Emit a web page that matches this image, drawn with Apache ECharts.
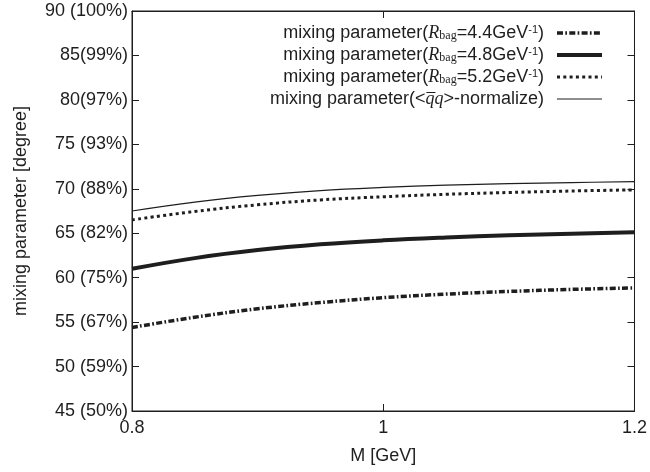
<!DOCTYPE html>
<html>
<head>
<meta charset="utf-8">
<script src="https://cdn.jsdelivr.net/npm/echarts@6/dist/echarts.min.js"></script>
<style>
  html, body { margin: 0; padding: 0; background: #fff; }
  #chart { width: 650px; height: 472px; }
</style>
</head>
<body>
<div id="chart"></div>
<script>
// Meson mass M [GeV]
const massGeV = [0.8, 0.85, 0.9, 0.95, 1.0, 1.05, 1.1, 1.15, 1.2];

// Mixing parameter [degree] for three bag radii and the <qq>-normalized case
const mixRbag44 = [54.4, 55.55, 56.5, 57.2, 57.75, 58.15, 58.45, 58.68, 58.85];
const mixRbag48 = [61.0, 62.2, 63.1, 63.75, 64.2, 64.52, 64.77, 64.95, 65.1];
const mixRbag52 = [66.5, 67.45, 68.2, 68.75, 69.1, 69.38, 69.58, 69.75, 69.88];
const mixNormalized = [67.5, 68.5, 69.25, 69.8, 70.15, 70.4, 70.57, 70.7, 70.8];

// Y tick values and their labels (degree with percentage)
const yTickValues = [45, 50, 55, 60, 65, 70, 75, 80, 85, 90];
const yTickLabels = ['45 (50%)', '50 (59%)', '55 (67%)', '60 (75%)', '65 (82%)',
                     '70 (88%)', '75 (93%)', '80(97%)', '85(99%)', '90 (100%)'];

// Series names and their rich-text legend labels
const seriesNames = ['Rbag 4.4', 'Rbag 4.8', 'Rbag 5.2', 'qq normalize'];
const legendLabels = [
  'mixing parameter({R|R}{sub|bag}=4.4GeV{sup|-1}){pad|}',
  'mixing parameter({R|R}{sub|bag}=4.8GeV{sup|-1}){pad|}',
  'mixing parameter({R|R}{sub|bag}=5.2GeV{sup|-1}){pad|}',
  'mixing parameter(<{R|q\u0305q}>-normalize){pad|}'
];

const ink = '#1e1e1e';
const font = '"Liberation Sans", Arial, Helvetica, sans-serif';
const serif = '"Liberation Serif", "Times New Roman", serif';

function pairs(ys) { return massGeV.map((x, i) => [x, ys[i]]); }

const chart = echarts.init(document.getElementById('chart'), null, { renderer: 'canvas' });

const lineStyles = [
  { width: 3.5, type: [6, 2.3, 1.7, 2.3], color: ink },
  { width: 4, type: 'solid', color: ink },
  { width: 3, type: [3, 3.3], color: ink },
  { width: 1.2, type: 'solid', color: ink }
];
const seriesData = [mixRbag44, mixRbag48, mixRbag52, mixNormalized];

chart.setOption({
  animation: false,
  backgroundColor: '#fff',
  grid: { left: 132, right: 12, top: 11, bottom: 61, show: true, borderColor: ink, borderWidth: 1 },
  legend: {
    orient: 'vertical',
    align: 'right',
    right: 46,
    top: 24,
    padding: 0,
    itemWidth: 45,
    itemHeight: 14,
    itemGap: 4,
    data: seriesNames.map((n, i) => ({
      name: n,
      lineStyle: lineStyles[i],
      itemStyle: { color: 'rgba(0,0,0,0)', borderWidth: 0, opacity: 0 }
    })),
    formatter: name => legendLabels[seriesNames.indexOf(name)],
    textStyle: {
      fontFamily: font, fontSize: 18, color: ink, lineHeight: 18,
      rich: {
        R: { fontFamily: serif, fontStyle: 'italic', fontSize: 18, color: ink },
        sub: { fontFamily: serif, fontSize: 12, color: ink, verticalAlign: 'bottom', lineHeight: 7 },
        sup: { fontFamily: font, fontSize: 11, color: ink, verticalAlign: 'top', lineHeight: 8 },
        pad: { width: 8 }
      }
    }
  },
  xAxis: [{
    type: 'value', min: 0.8, max: 1.2, interval: 0.2,
    name: 'M [GeV]', nameLocation: 'middle', nameGap: 36,
    nameTextStyle: { fontFamily: font, fontSize: 18, color: ink },
    axisLine: { show: true, lineStyle: { color: ink, width: 1 } },
    axisTick: { show: true, inside: true, length: 7, lineStyle: { color: ink } },
    axisLabel: { fontFamily: font, fontSize: 18, color: ink, margin: 8,
                 formatter: v => String(parseFloat(v.toFixed(2))) },
    splitLine: { show: false }
  }, {
    type: 'value', position: 'top', min: 0.8, max: 1.2, interval: 0.2,
    axisLine: { show: true, lineStyle: { color: ink, width: 1 } },
    axisTick: { show: true, inside: true, length: 7, lineStyle: { color: ink } },
    axisLabel: { show: false }, splitLine: { show: false }
  }],
  yAxis: [{
    type: 'value', min: 45, max: 90, interval: 5,
    name: 'mixing parameter [degree]', nameLocation: 'middle', nameGap: 102,
    nameTextStyle: { fontFamily: font, fontSize: 18, color: ink },
    axisLine: { show: true, lineStyle: { color: ink, width: 1 } },
    axisTick: { show: true, inside: true, length: 7, lineStyle: { color: ink } },
    axisLabel: { fontFamily: font, fontSize: 18, color: ink, margin: 4,
                 formatter: v => yTickLabels[yTickValues.indexOf(Math.round(v))] },
    splitLine: { show: false }
  }, {
    type: 'value', position: 'right', min: 45, max: 90, interval: 5,
    axisLine: { show: true, lineStyle: { color: ink, width: 1 } },
    axisTick: { show: true, inside: true, length: 7, lineStyle: { color: ink } },
    axisLabel: { show: false }, splitLine: { show: false }
  }],
  series: seriesNames.map((n, i) => ({
    name: n,
    type: 'line',
    xAxisIndex: 0, yAxisIndex: 0,
    data: pairs(seriesData[i]),
    smooth: 0.4,
    symbol: 'none',
    color: ink,
    lineStyle: lineStyles[i],
    z: 10 - i
  }))
});
</script>
</body>
</html>
